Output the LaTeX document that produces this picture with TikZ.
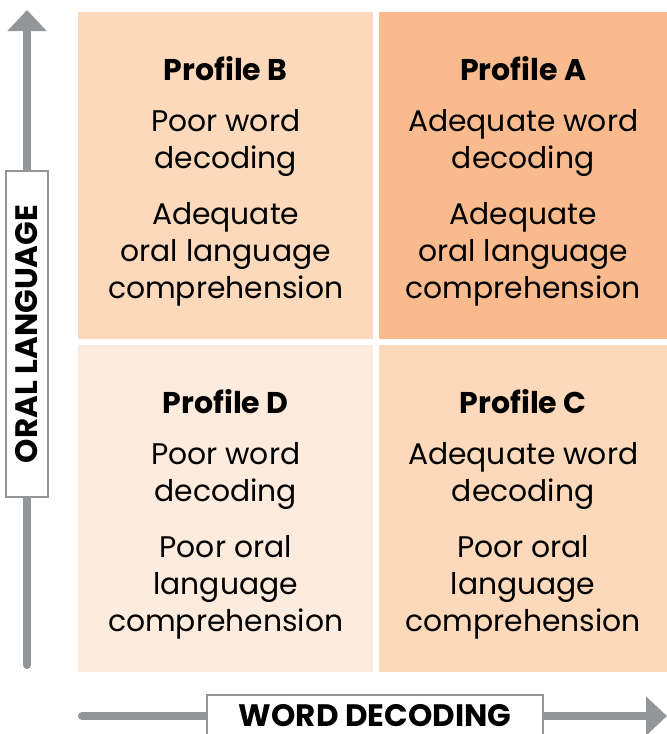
\documentclass[tikz,border=0pt]{standalone}
\usepackage{fontspec}
\setmainfont{Poppins}
\usetikzlibrary{arrows.meta,positioning}
\definecolor{quadlight}{HTML}{FDEBDD}
\definecolor{quadmid}{HTML}{FDD9BC}
\definecolor{quaddark}{HTML}{F9BB8E}
\definecolor{axisgray}{HTML}{939598}
\tikzset{
  quad/.style={rectangle, inner sep=0, anchor=north west, minimum height=327pt},
  head/.style={font=\fontsize{30}{37}\selectfont\bfseries},
  body/.style={align=center, font=\fontsize{29.8}{37}\selectfont},
  axis/.style={draw=axisgray, line width=8pt, line cap=round, -{Triangle[width=38pt,length=21pt]}},
  axislabel/.style={draw=axisgray, line width=1.2pt, fill=white, inner sep=0, minimum height=42pt,
    font=\fontsize{31}{34}\selectfont\bfseries}
}
\begin{document}
\begin{tikzpicture}[x=1pt,y=-1pt]
  \useasboundingbox (0,0) rectangle (667,734);
  % quadrants
  \node [quad, fill=quadmid, minimum width=295pt] (qB) at (78,12) {};
  \node [quad, fill=quaddark, minimum width=288pt] (qA) at (379,12) {};
  \node [quad, fill=quadlight, minimum width=295pt] (qD) at (78,345) {};
  \node [quad, fill=quadmid, minimum width=288pt] (qC) at (379,345) {};
  % profile B
  \node [head] (tB) at ([yshift=-57pt]qB.north) {Profile B};
  \node [body] (wB) at ([yshift=-130.5pt]qB.north) {Poor word\\decoding};
  \node [body] (oB) at ([yshift=-242pt]qB.north) {Adequate\\oral language\\comprehension};
  % profile A
  \node [head] (tA) at ([yshift=-57pt]qA.north) {Profile A};
  \node [body] (wA) at ([yshift=-130.5pt]qA.north) {Adequate word\\decoding};
  \node [body] (oA) at ([yshift=-242pt]qA.north) {Adequate\\oral language\\comprehension};
  % profile D
  \node [head] (tD) at ([yshift=-57pt]qD.north) {Profile D};
  \node [body] (wD) at ([yshift=-130.5pt]qD.north) {Poor word\\decoding};
  \node [body] (oD) at ([yshift=-242pt]qD.north) {Poor oral\\language\\comprehension};
  % profile C
  \node [head] (tC) at ([yshift=-57pt]qC.north) {Profile C};
  \node [body] (wC) at ([yshift=-130.5pt]qC.north) {Adequate word\\decoding};
  \node [body] (oC) at ([yshift=-242pt]qC.north) {Poor oral\\language\\comprehension};
  % axes
  \coordinate (ylow) at (27,665);
  \coordinate (yhigh) at (27,10);
  \coordinate (xlow) at (82,716);
  \coordinate (xhigh) at (667,716);
  \draw [axis] (ylow) -- (yhigh);
  \draw [axis] (xlow) -- (xhigh);
  \node [axislabel, rotate=90, minimum width=326pt] (ylab) at (27,334) {ORAL LANGUAGE};
  \node [axislabel, minimum width=336pt] (xlab) at (375,716) {WORD DECODING};
\end{tikzpicture}
\end{document}
